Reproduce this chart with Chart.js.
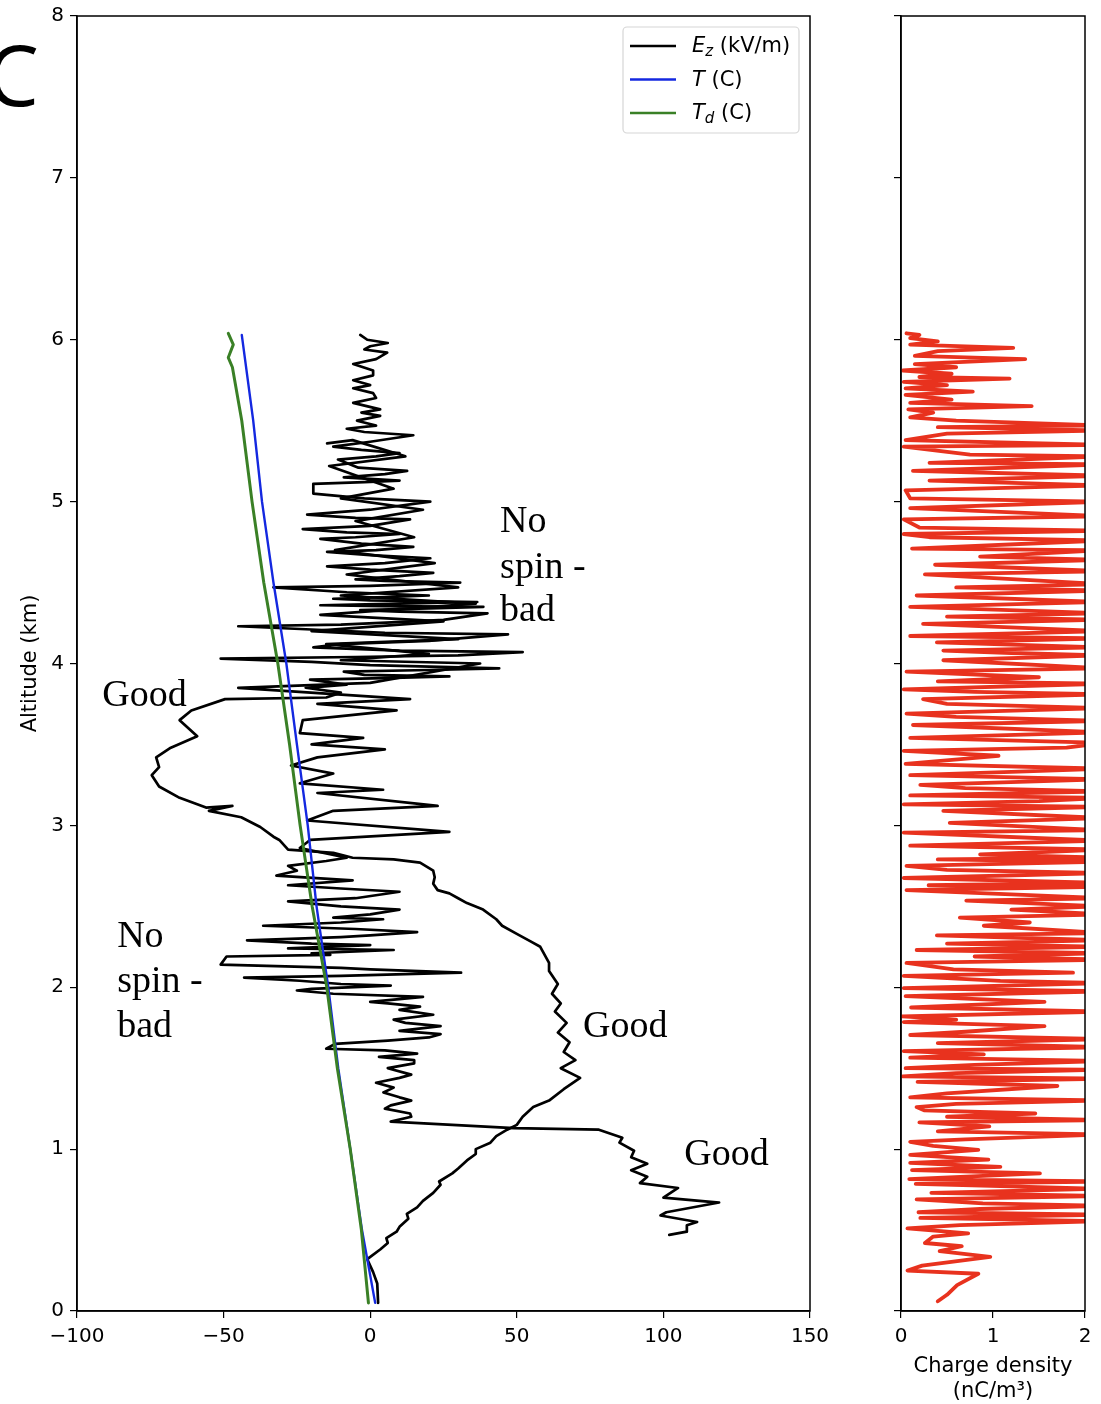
<!DOCTYPE html>
<html>
<head>
<meta charset="utf-8">
<script src="https://cdn.jsdelivr.net/npm/chart.js@4.4.0/dist/chart.umd.min.js"></script>
<style>
  html, body { margin: 0; padding: 0; background: #fff; }
  #wrap { position: relative; width: 1101px; height: 1404px; overflow: hidden; }
  #left { position: absolute; left: 0; top: 0; }
  #right { position: absolute; left: 850px; top: 0; }
  #panelLabel { position: absolute; left: -14px; top: 32px; font: 84px "Open Sans"; line-height: 1; color: #000; }
</style>
</head>
<body>
<div id="wrap">
  <canvas id="left" width="850" height="1404"></canvas>
  <canvas id="right" width="251" height="1404"></canvas>
  <div id="panelLabel">C</div>
</div>
<script>
// --- data: [value, altitude km] ---

// Ez profile 1: smooth "Good" ascent that turns noisy above ~3.8 km
const ezRunA = [
  [2.7,0.05],[2.4,0.17],[1,0.24],[-1,0.32],[3.4,0.38],[6,0.42],[5.5,0.45],[9,0.49],[10,0.52],
  [13,0.57],[12.5,0.60],[16,0.64],[18,0.68],[21.5,0.73],[24,0.78],[23.5,0.80],[28,0.85],
  [30,0.88],[33,0.93],[36,0.97],[36,1.00],[41,1.04],[43,1.08],[46.7,1.12],[50,1.15],
  [52,1.20],[55.6,1.26],[61,1.30],[66,1.37],[71.6,1.44],[65,1.50],[70,1.55],[66,1.60],
  [68,1.66],[64,1.72],[67,1.78],[63,1.85],[65,1.90],[62,1.96],[64,2.02],[61,2.10],[61,2.15],
  [58,2.25],[55,2.28],[50,2.33],[45,2.38],[43,2.42],[38.5,2.48],[33,2.52],[30,2.55],[27,2.58],
  [23,2.60],[21.5,2.64],[22,2.68],[21.5,2.72],[17,2.77],[8,2.79],[-6,2.80],[-12.6,2.83],
  [-28,2.85],[-31,2.91],[-33,2.93],[-37.5,2.99],[-44,3.05],[-55,3.09],[-47,3.12],[-56,3.11],
  [-65,3.17],[-72,3.24],[-74.5,3.31],[-72,3.36],[-73,3.42],[-68,3.48],[-59,3.55],[-65,3.65],
  [-61,3.71],[-49.5,3.78],[-15,3.79],
  [-10,3.82],[-22,3.85],[-8,3.87],[-20.5,3.90],[5,3.91],[27,3.92],[-2,3.93],[-9,3.95],
  [20,3.96],[44,3.97],[0,3.99],[-20,4.01],[-51,4.03],[-5,4.04],[30,4.05],[52,4.07],[10,4.08],
  [-19.4,4.10],[-10,4.12],[20,4.14],[47,4.18],[5,4.19],[-20,4.21],[-45,4.23],[-10,4.24],
  [15,4.26],[25,4.27],[40,4.31],[10,4.32],[-3.4,4.33],[20,4.34],[38.6,4.35],[5,4.355],
  [-17,4.36],[10,4.37],[36.5,4.38],[0,4.39],[-12.6,4.40],[5,4.41],[20,4.42],[-8,4.44],
  [-33,4.47],[0,4.48],[30.7,4.50],[5,4.51],[-5,4.52],[10,4.54],[21.5,4.56],[0,4.58],
  [-14.7,4.60],[5,4.62],[20.5,4.65],[0,4.67],[-14.7,4.69],[2,4.70],[14.7,4.72],[-3,4.74],
  [-17,4.77],[-5,4.78],[10,4.80],[-8,4.81],[-23,4.83],[0,4.85],[13.6,4.89],[-5,4.90],
  [-21.5,4.92],[0,4.95],[20.5,5.00],[-2,5.02],[-19.4,5.05],[-19.4,5.11],[-2,5.12],[10,5.13],
  [-9,5.15],[5,5.17],[12.6,5.19],[-4,5.21],[-11,5.26],[2,5.28],[10,5.30],[-3,5.32],
  [-12.6,5.34],[0,5.37],[14.7,5.41],[-2,5.43],[-8,5.45],[2,5.47],[-4.5,5.50],[3.4,5.53],
  [-3,5.55],[3.4,5.57],[-5.8,5.61],[2,5.64],[1,5.67],[-5.8,5.70],[0,5.72],[-5.8,5.75],
  [1,5.78],[1,5.81],[-5.8,5.85],[2,5.88],[5.8,5.92],[-2,5.94],[0,5.96],[6,5.98],[-1,6.00],
  [-3.4,6.03]
];

// Ez profile 2: "Good" low-level segment, then the noisy no-spin section
const ezRunB = [
  [102,0.47],[108,0.49],[108,0.53],[111.5,0.55],[99,0.59],[101,0.61],[119,0.67],[100,0.70],
  [105,0.76],[92,0.79],[94.5,0.83],[89,0.87],[94.5,0.91],[89,0.95],[90,0.99],[85,1.04],
  [86,1.07],[78,1.12],[49,1.13],[7,1.17],[14,1.20],[13.6,1.22],[5,1.25],[7,1.27],[14,1.30],
  [10,1.32],[4.5,1.35],[8,1.38],[2,1.41],[10,1.44],[14,1.46],[6,1.50],[15,1.53],[15,1.55],
  [3,1.57],[16,1.59],[5,1.61],[-15,1.62],[-12,1.65],[6,1.67],[20,1.69],[24,1.71],[10,1.73],
  [24,1.76],[12,1.78],[8,1.80],[21.5,1.83],[10,1.86],[17,1.88],[6,1.90],[0,1.91],[18,1.94],
  [-12.6,1.96],[-25,1.98],[-20,1.99],[7,2.01],[-10,2.02],[-24,2.04],[-43,2.06],[-10,2.07],
  [31,2.09],[0,2.11],[-10,2.12],[-51,2.14],[-49,2.19],[-13.6,2.20],[-20,2.21],[8,2.23],
  [-28,2.24],[0,2.26],[-20,2.27],[-42,2.29],[-10,2.31],[0,2.32],[16,2.34],[-5,2.36],
  [-36.5,2.38],[-10,2.40],[4.4,2.42],[-12.6,2.43],[0,2.45],[10,2.48],[-10,2.50],[-28,2.53],
  [-5,2.55],[10,2.59],[-10,2.61],[-28,2.63],[-6,2.66],[-32,2.69],[-25,2.72],[-28,2.75],
  [-15,2.78],[-8,2.80],[-24,2.86],[-20.5,2.91],[27,2.96],[-21.5,3.03],[-12.6,3.09],[23,3.12],
  [-18,3.20],[4.4,3.22],[-24,3.26],[-12.6,3.32],[-27,3.37],[-18,3.42],[5,3.47],[-20,3.50],
  [-2.4,3.54],[-24,3.57],[-23,3.65],[9,3.71],[-18,3.75],[13.6,3.78],[-45,3.85],[0,3.88],
  [37.5,4.00],[-10,4.02],[20,4.06],[-15,4.12],[30,4.15],[-20,4.20],[25,4.26],[-17,4.30],
  [36,4.37],[-10,4.42],[30,4.47],[-8,4.55],[22,4.62],[-12,4.70],[15,4.78],[-5,4.88],
  [18,4.95],[-10,5.02],[8,5.08],[-14,5.22],[12,5.28],[-6,5.38],[-14.7,5.36]
];

const tempAlt = [0.05, 0.5, 1.0, 1.5, 2.0, 2.5, 3.0, 3.5, 4.0, 4.5, 5.0, 5.5, 6.03];
const tempT   = [1.7, -2.8, -6.8, -10.9, -14.3, -18.3, -21.3, -25.0, -28.6, -33.0, -36.9, -39.9, -43.8];

const dewAlt = [0.05, 0.5, 1.0, 1.5, 2.0, 2.5, 3.0, 3.5, 4.0, 4.5, 5.0, 5.5, 5.83, 5.89, 5.97, 6.04];
const dewTd  = [-0.6, -3.0, -6.8, -11.2, -14.8, -19.8, -23.9, -27.5, -31.5, -36.3, -40.3, -43.8, -47.0, -48.4, -46.7, -48.4];

// charge density [nC/m^3, altitude km]; values past 2 run off the panel
const chargeRun = [
  [0.40,0.06],[0.50,0.10],[0.61,0.16],[0.84,0.23],[0.07,0.25],[0.23,0.28],[0.97,0.335],[0.42,0.37],
  [0.66,0.40],[0.26,0.42],[0.35,0.46],[0.73,0.48],[0.07,0.51],[0.64,0.53],[2.2,0.555],[0.21,0.575],
  [2.2,0.595],[0.19,0.61],[0.86,0.63],[2.2,0.65],[0.89,0.665],[0.17,0.69],[2.2,0.71],[0.33,0.73],
  [2.2,0.755],[0.16,0.785],[2.2,0.80],[0.09,0.815],[1.51,0.85],[0.12,0.87],[1.08,0.89],[0.10,0.915],
  [0.95,0.935],[0.10,0.965],[0.84,0.995],[0.35,1.02],[0.10,1.045],[0.7,1.06],[2.2,1.09],[0.40,1.11],
  [0.96,1.14],[0.20,1.165],[2.2,1.18],[0.5,1.20],[1.46,1.22],[0.25,1.24],[0.17,1.26],[0.6,1.28],
  [2.2,1.30],[0.10,1.32],[0.5,1.345],[1.70,1.39],[0.18,1.415],[2.2,1.435],[0.02,1.45],[0.6,1.47],
  [2.2,1.49],[0.05,1.50],[0.8,1.52],[2.2,1.545],[0.10,1.565],[0.9,1.585],[0.03,1.605],[2.2,1.63],
  [0.4,1.655],[2.2,1.68],[0.10,1.705],[0.7,1.725],[1.56,1.76],[0.03,1.785],[0.6,1.80],[0.01,1.82],
  [2.2,1.85],[0.11,1.875],[1.56,1.91],[0.05,1.945],[2.2,1.975],[0.03,1.995],[2.2,2.025],[1.08,2.04],
  [0.03,2.07],[1.87,2.09],[0.57,2.11],[0.06,2.15],[2.2,2.17],[0.8,2.19],[2.2,2.21],[0.17,2.23],
  [2.2,2.25],[0.5,2.27],[2.2,2.29],[0.39,2.32],[2.2,2.335],[0.9,2.38],[1.4,2.40],[0.64,2.43],
  [2.2,2.45],[1.2,2.48],[2.2,2.50],[0.71,2.535],[2.2,2.55],[0.06,2.60],[2.2,2.62],[0.3,2.63],
  [2.2,2.645],[0.03,2.675],[2.2,2.705],[0.5,2.725],[0.06,2.75],[2.2,2.775],[0.4,2.79],[2.2,2.80],
  [0.86,2.82],[2.2,2.85],[0.10,2.875],[2.2,2.905],[0.03,2.955],[2.2,2.97],[0.53,3.015],[2.2,3.045],
  [0.46,3.09],[2.2,3.115],[0.03,3.13],[1.5,3.15],[2.2,3.17],[0.10,3.185],[2.2,3.21],[0.7,3.23],
  [0.21,3.25],[2.2,3.285],[0.10,3.31],[1.2,3.33],[2.2,3.35],[0.05,3.38],[1.06,3.43],[0.03,3.46],
  [1.8,3.48],[2.2,3.51],[0.10,3.54],[2.2,3.575],[0.13,3.62],[2.2,3.645],[0.6,3.67],[0.06,3.69],
  [2.2,3.725],[0.5,3.75],[0.24,3.78],[2.2,3.81],[0.8,3.825],[0.03,3.84],[2.2,3.875],[0.4,3.89],
  [1.5,3.915],[0.06,3.95],[2.2,3.97],[0.46,4.02],[2.2,4.05],[1.2,4.065],[0.46,4.08],[2.2,4.10],
  [0.39,4.13],[2.2,4.155],[0.10,4.17],[2.2,4.20],[0.24,4.245],[2.2,4.27],[0.5,4.29],[2.2,4.31],
  [0.10,4.35],[2.2,4.38],[0.17,4.42],[2.2,4.45],[0.6,4.47],[2.2,4.49],[0.26,4.55],[2.2,4.57],
  [0.37,4.61],[2.2,4.64],[0.86,4.66],[2.2,4.70],[0.12,4.71],[2.2,4.76],[0.31,4.78],[0.03,4.80],
  [2.2,4.82],[0.20,4.84],[0.03,4.89],[2.2,4.91],[0.10,4.96],[2.2,5.00],[0.10,5.02],[0.05,5.07],
  [2.2,5.10],[0.31,5.13],[2.2,5.16],[0.13,5.19],[2.2,5.23],[0.31,5.24],[2.2,5.28],[0.75,5.29],
  [0.03,5.34],[2.2,5.35],[0.05,5.38],[0.5,5.42],[2.2,5.44],[0.40,5.46],[2.2,5.47],[0.60,5.50],
  [0.10,5.52],[0.35,5.55],[0.08,5.57],[1.42,5.59],[0.10,5.61],[0.55,5.63],[0.05,5.66],[0.78,5.68],
  [0.05,5.70],[0.50,5.72],[0.03,5.74],[1.18,5.76],[0.20,5.77],[0.55,5.79],[0.02,5.81],[0.60,5.83],
  [0.15,5.85],[1.35,5.88],[0.15,5.90],[0.40,5.93],[1.22,5.95],[0.10,5.97],[0.40,5.99],[0.10,6.01],
  [0.20,6.03],[0.06,6.04]
];

// legend entries and text notes on the left panel
const legendLabels = [
  [['E', 'italic'], ['z', 'sub'], [' (kV/m)', 'plain']],
  [['T', 'italic'], [' (C)', 'plain']],
  [['T', 'italic'], ['d', 'sub'], [' (C)', 'plain']]
];
const noteText = ['No', 'spin -', 'bad', 'Good', 'No', 'spin -', 'bad', 'Good', 'Good'];
const noteX    = [44.3, 44.3, 44.3, -91.4, -86.3, -86.3, -86.3, 72.6, 107.1];
const noteAlt  = [4.81, 4.53, 4.26, 3.74, 2.25, 1.97, 1.69, 1.69, 0.90];

const ezColor = '#000000';
const tColor = '#1428e0';
const tdColor = '#3a8026';
const rhoColor = '#e8321e';

const tickFont = { family: 'DejaVu Sans', size: 20 };
const titleFont = { family: 'DejaVu Sans', size: 21 };

const toXY = pts => pts.map(p => ({ x: p[0], y: p[1] }));
const minus = v => (v < 0 ? '\u2212' + Math.abs(v) : String(v));

// full box around each plot (matplotlib spines)
const framePlugin = {
  id: 'frame',
  afterDatasetsDraw(chart) {
    const { ctx, chartArea: a } = chart;
    ctx.save();
    ctx.strokeStyle = '#000';
    ctx.lineWidth = 1.5;
    ctx.strokeRect(a.left, a.top, a.right - a.left, a.bottom - a.top);
    ctx.restore();
  }
};

const legendPlugin = {
  id: 'legendBox',
  afterDraw(chart) {
    const { ctx, chartArea: a } = chart;
    const colors = [ezColor, tColor, tdColor];
    const w = 176, h = 106;
    const x0 = a.right - 11 - w, y0 = a.top + 11;
    ctx.save();
    ctx.beginPath();
    ctx.roundRect(x0, y0, w, h, 4);
    ctx.fillStyle = 'rgba(255,255,255,0.85)';
    ctx.fill();
    ctx.strokeStyle = '#d6d6d6';
    ctx.lineWidth = 1.2;
    ctx.stroke();
    legendLabels.forEach((parts, i) => {
      const y = y0 + 19 + i * 33.5;
      ctx.strokeStyle = colors[i];
      ctx.lineWidth = 2.6;
      ctx.beginPath();
      ctx.moveTo(x0 + 7, y);
      ctx.lineTo(x0 + 53, y);
      ctx.stroke();
      ctx.fillStyle = '#000';
      ctx.textBaseline = 'middle';
      let tx = x0 + 69;
      parts.forEach(([s, kind]) => {
        let dy = 1;
        if (kind === 'italic') ctx.font = 'italic 21px "DejaVu Sans"';
        else if (kind === 'sub') { ctx.font = 'italic 15px "DejaVu Sans"'; dy = 6; }
        else ctx.font = '21px "DejaVu Sans"';
        ctx.fillText(s, tx, y + dy);
        tx += ctx.measureText(s).width;
      });
    });
    ctx.restore();
  }
};

const notesPlugin = {
  id: 'notes',
  afterDraw(chart) {
    const { ctx, scales } = chart;
    ctx.save();
    ctx.font = '38px "Liberation Serif"';
    ctx.fillStyle = '#000';
    ctx.textAlign = 'left';
    ctx.textBaseline = 'alphabetic';
    noteText.forEach((t, i) => {
      ctx.fillText(t, scales.x.getPixelForValue(noteX[i]), scales.y.getPixelForValue(noteAlt[i]));
    });
    ctx.restore();
  }
};

const axisGrid = { display: true, drawOnChartArea: false, drawTicks: true, tickLength: 7, color: '#000', lineWidth: 1.2 };
const axisBorder = { display: true, color: '#000', width: 1.5 };

const lineStyle = (color, width) => ({
  borderColor: color, borderWidth: width, pointRadius: 0, tension: 0,
  fill: false, borderJoinStyle: 'round', borderCapStyle: 'round', clip: 0
});

new Chart(document.getElementById('left'), {
  type: 'line',
  data: {
    datasets: [
      { label: 'Ez A', data: toXY(ezRunA), order: 3, ...lineStyle(ezColor, 2.7) },
      { label: 'Ez B', data: toXY(ezRunB), order: 2, ...lineStyle(ezColor, 2.7) },
      { label: 'T', data: tempT.map((v, i) => ({ x: v, y: tempAlt[i] })), order: 1, ...lineStyle(tColor, 2.4) },
      { label: 'Td', data: dewTd.map((v, i) => ({ x: v, y: dewAlt[i] })), order: 0, ...lineStyle(tdColor, 3) }
    ]
  },
  options: {
    responsive: false,
    animation: false,
    layout: { padding: { left: 0, top: 16, right: 40, bottom: 0 } },
    plugins: { legend: { display: false }, tooltip: { enabled: false } },
    scales: {
      x: {
        type: 'linear', min: -100, max: 150,
        ticks: { stepSize: 50, color: '#000', font: tickFont, padding: 7, callback: v => minus(v) },
        grid: axisGrid, border: axisBorder,
        afterFit(s) { s.height = 93; s.paddingLeft = 0; s.paddingRight = 0; }
      },
      y: {
        type: 'linear', min: 0, max: 8,
        ticks: { stepSize: 1, color: '#000', font: tickFont, padding: 6 },
        grid: axisGrid, border: axisBorder,
        title: { display: true, text: 'Altitude (km)', color: '#000', font: titleFont, padding: { top: 18, bottom: 0 } },
        afterFit(s) { s.width = 77; s.paddingTop = 0; s.paddingBottom = 0; }
      }
    }
  },
  plugins: [framePlugin, legendPlugin, notesPlugin]
});

new Chart(document.getElementById('right'), {
  type: 'line',
  data: {
    datasets: [
      { label: 'Charge density', data: toXY(chargeRun), ...lineStyle(rhoColor, 3.8) }
    ]
  },
  options: {
    responsive: false,
    animation: false,
    layout: { padding: { left: 0, top: 16, right: 16, bottom: 0 } },
    plugins: { legend: { display: false }, tooltip: { enabled: false } },
    scales: {
      x: {
        type: 'linear', min: 0, max: 2,
        ticks: { stepSize: 1, color: '#000', font: tickFont, padding: 7 },
        grid: axisGrid, border: axisBorder,
        title: { display: true, text: ['Charge density', '(nC/m\u00b3)'], color: '#000', font: titleFont, padding: { top: 0, bottom: 0 } },
        afterFit(s) { s.height = 93; s.paddingLeft = 0; s.paddingRight = 0; }
      },
      y: {
        type: 'linear', min: 0, max: 8,
        ticks: { stepSize: 1, color: '#000', font: tickFont, padding: 4, callback: () => '' },
        grid: axisGrid, border: axisBorder,
        afterFit(s) { s.width = 51; s.paddingTop = 0; s.paddingBottom = 0; }
      }
    }
  },
  plugins: [framePlugin]
});
</script>
</body>
</html>
